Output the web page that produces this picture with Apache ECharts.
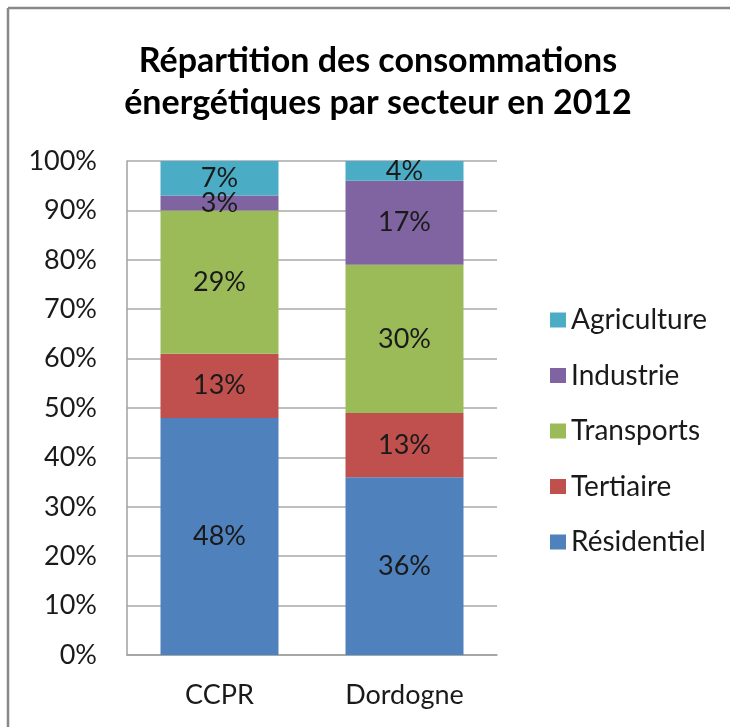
<!DOCTYPE html>
<html>
<head>
<meta charset="utf-8">
<script src="https://cdn.jsdelivr.net/npm/echarts@6/dist/echarts.min.js"></script>
<style>
html,body{margin:0;padding:0;background:#fff;}
#chart{width:730px;height:727px;}
</style>
</head>
<body>
<div id="chart"></div>
<script>
var categories = ['CCPR', 'Dordogne'];
var residentiel = [48, 36];
var tertiaire = [13, 13];
var transports = [29, 30];
var industrie = [3, 17];
var agriculture = [7, 4];
var seriesNames = ['Résidentiel', 'Tertiaire', 'Transports', 'Industrie', 'Agriculture'];
var seriesColors = ['#4F81BD', '#C0504D', '#9BBB59', '#8064A2', '#4BACC6'];
var legendOrder = ['Agriculture', 'Industrie', 'Transports', 'Tertiaire', 'Résidentiel'];

var FONT = 'Lato';
var values = [residentiel, tertiaire, transports, industrie, agriculture];

var chart = echarts.init(document.getElementById('chart'), null, {renderer: 'canvas'});
var series = seriesNames.map(function (name, i) {
  return {
    name: name,
    type: 'bar',
    stack: 'total',
    barWidth: 118,
    data: values[i],
    itemStyle: {color: seriesColors[i]},
    label: {
      show: true,
      position: 'inside',
      formatter: '{c}%',
      color: '#1a1a1a',
      fontFamily: FONT,
      fontSize: 27
    }
  };
});

chart.setOption({
  animation: false,
  backgroundColor: '#fff',
  title: {
    text: 'Répartition des consommations\nénergétiques par secteur en 2012',
    left: 373,
    textAlign: 'center',
    top: 35,
    textStyle: {
      fontFamily: FONT,
      fontWeight: 'bold',
      fontSize: 34,
      lineHeight: 42,
      color: '#000'
    }
  },
  legend: {
    data: legendOrder,
    orient: 'vertical',
    left: 545,
    top: 301,
    itemWidth: 16,
    itemHeight: 15,
    itemGap: 27.5,
    icon: 'rect',
    textStyle: {fontFamily: FONT, fontSize: 28, color: '#1a1a1a'}
  },
  grid: {left: 127, right: 233, top: 161, bottom: 72, containLabel: false},
  xAxis: {
    type: 'category',
    data: categories,
    axisLine: {show: true, lineStyle: {color: '#A0A0A0', width: 1.5}},
    axisTick: {show: false},
    axisLabel: {fontFamily: FONT, fontSize: 27, color: '#1a1a1a', margin: 27}
  },
  yAxis: {
    type: 'value',
    min: 0,
    max: 100,
    interval: 10,
    axisLine: {show: true, lineStyle: {color: '#A0A0A0', width: 1.5}},
    axisTick: {show: false},
    splitLine: {show: true, lineStyle: {color: '#A8A8A8', width: 1.5}},
    axisLabel: {formatter: '{value}%', fontFamily: FONT, fontSize: 27, color: '#1a1a1a', margin: 30}
  },
  graphic: [
    {type: 'line', shape: {x1: 8, y1: 8, x2: 8, y2: 727}, style: {stroke: '#888', lineWidth: 2.5}},
    {type: 'line', shape: {x1: 8, y1: 8, x2: 730, y2: 8}, style: {stroke: '#888', lineWidth: 2.5}}
  ],
  series: series
});
</script>
</body>
</html>
